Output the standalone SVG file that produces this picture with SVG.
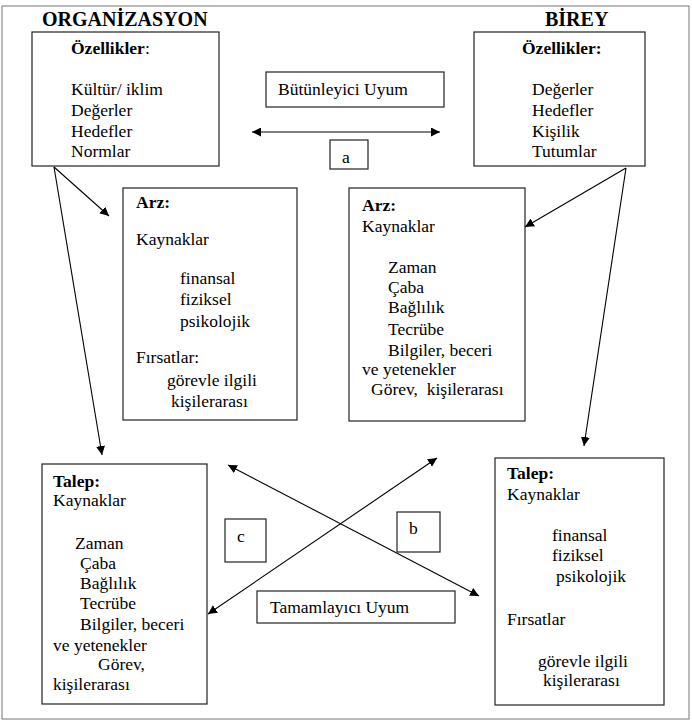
<svg xmlns="http://www.w3.org/2000/svg" width="692" height="721" viewBox="0 0 692 721">
<defs>
<marker id="ah" viewBox="0 0 10 10" refX="10" refY="5" markerWidth="9" markerHeight="9" markerUnits="userSpaceOnUse" orient="auto-start-reverse">
<path d="M0,0 L10,5 L0,10 Z" fill="#000"/>
</marker>
<style>
text{font-family:"Liberation Serif","Times New Roman",serif;font-size:17.5px;fill:#000}
.b{font-weight:bold}
.t{font-size:20px;font-weight:bold}
.box{fill:#fff;stroke:#222;stroke-width:1.2}
.frame{fill:#fff;stroke:#777;stroke-width:1}
.c line{stroke:#000;stroke-width:1.1}
</style>
</defs>
<rect class="frame" x="2" y="6" width="687" height="713"/>
<text class="t" x="42" y="26">ORGANİZASYON</text>
<text class="t" x="545" y="26">BİREY</text>

<g id="org-ozellik">
<rect class="box" x="32" y="32" width="187" height="134"/>
<text class="b" x="71" y="54">Özellikler<tspan font-weight="normal">:</tspan></text>
<text x="71" y="95">Kültür/ iklim</text>
<text x="71" y="116">Değerler</text>
<text x="71" y="137">Hedefler</text>
<text x="71" y="157">Normlar</text>
</g>

<g id="birey-ozellik">
<rect class="box" x="474" y="32" width="171" height="134"/>
<text class="b" x="522" y="54">Özellikler:</text>
<text x="532" y="95">Değerler</text>
<text x="532" y="116">Hedefler</text>
<text x="532" y="137">Kişilik</text>
<text x="532" y="157">Tutumlar</text>
</g>

<g id="butunleyici">
<rect class="box" x="266" y="72" width="178" height="35"/>
<text x="278" y="95">Bütünleyici Uyum</text>
</g>

<g id="label-a">
<rect class="box" x="330" y="140" width="38" height="29"/>
<text x="342" y="163">a</text>
</g>

<g id="arz-org">
<rect class="box" x="123" y="188" width="174" height="232"/>
<text class="b" x="136" y="208">Arz:</text>
<text x="136" y="245">Kaynaklar</text>
<text x="180" y="284">finansal</text>
<text x="180" y="305">fiziksel</text>
<text x="180" y="327">psikolojik</text>
<text x="136" y="363">Fırsatlar:</text>
<text x="167" y="386">görevle ilgili</text>
<text x="171" y="407">kişilerarası</text>
</g>

<g id="arz-birey">
<rect class="box" x="349" y="188" width="176" height="233"/>
<text class="b" x="362" y="211">Arz:</text>
<text x="362" y="232">Kaynaklar</text>
<text x="388" y="273">Zaman</text>
<text x="388" y="293">Çaba</text>
<text x="388" y="313">Bağlılık</text>
<text x="388" y="335">Tecrübe</text>
<text x="388" y="356">Bilgiler, beceri</text>
<text x="362" y="375">ve yetenekler</text>
<text x="371" y="395" xml:space="preserve">Görev,  kişilerarası</text>
</g>

<g id="talep-org">
<rect class="box" x="42" y="464" width="165" height="240"/>
<text class="b" x="53" y="487">Talep:</text>
<text x="53" y="506">Kaynaklar</text>
<text x="75" y="549">Zaman</text>
<text x="80" y="569">Çaba</text>
<text x="80" y="589">Bağlılık</text>
<text x="80" y="609">Tecrübe</text>
<text x="80" y="630">Bilgiler, beceri</text>
<text x="53" y="651">ve yetenekler</text>
<text x="98" y="670">Görev,</text>
<text x="53" y="690">kişilerarası</text>
</g>

<g id="talep-birey">
<rect class="box" x="495" y="458" width="169" height="247"/>
<text class="b" x="507" y="479">Talep:</text>
<text x="507" y="500">Kaynaklar</text>
<text x="552" y="541">finansal</text>
<text x="552" y="561">fiziksel</text>
<text x="556" y="582">psikolojik</text>
<text x="507" y="625">Fırsatlar</text>
<text x="538" y="667">görevle ilgili</text>
<text x="543" y="686">kişilerarası</text>
</g>

<g id="connectors" class="c">
<line x1="252" y1="132" x2="440" y2="132" marker-start="url(#ah)" marker-end="url(#ah)"/>
<line x1="54" y1="167" x2="109" y2="216" marker-end="url(#ah)"/>
<line x1="54" y1="167" x2="102" y2="455" marker-end="url(#ah)"/>
<line x1="626" y1="168" x2="525" y2="227" marker-end="url(#ah)"/>
<line x1="626" y1="168" x2="584" y2="446" marker-end="url(#ah)"/>
<line x1="208" y1="614" x2="437" y2="458" marker-start="url(#ah)" marker-end="url(#ah)"/>
<line x1="228" y1="465" x2="479" y2="596" marker-start="url(#ah)" marker-end="url(#ah)"/>
</g>

<g id="label-c">
<rect class="box" x="225" y="519" width="41" height="43"/>
<text x="237" y="542">c</text>
</g>

<g id="label-b">
<rect class="box" x="397" y="512" width="43" height="40"/>
<text x="409" y="534">b</text>
</g>

<g id="tamamlayici">
<rect class="box" x="257" y="591" width="198" height="32"/>
<text x="270" y="613">Tamamlayıcı Uyum</text>
</g>
</svg>
